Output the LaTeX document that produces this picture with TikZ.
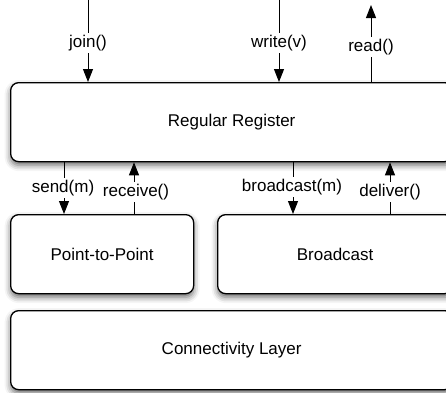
\documentclass[tikz,border=0pt]{standalone}
\usepackage{fontspec}
\setmainfont{Liberation Sans}
\usetikzlibrary{arrows.meta,shadows.blur}
\begin{document}
\begin{tikzpicture}[x=1pt,y=-1pt,
  box/.style={draw=black, line width=1.3pt, rounded corners=8pt, fill=white,
    blur shadow={shadow xshift=0pt, shadow yshift=-3.5pt, shadow blur radius=6pt, shadow opacity=60},
    font=\fontsize{17}{20}\selectfont, text=black, anchor=north west, inner sep=0pt},
  arr/.style={line width=1pt, draw=black, -{Triangle[width=10pt,length=13pt]}},
  lab/.style={fill=white, inner xsep=3pt, inner ysep=2pt, font=\fontsize{17}{20}\selectfont, text=black}]
\useasboundingbox (0,0) rectangle (446,392);
\clip (0,0) rectangle (446,392);
% boxes
\node[box, minimum width=442pt, minimum height=79pt] (rr) at (10,82) {Regular Register};
\node[box, minimum width=183pt, minimum height=79pt] (pp) at (10,214) {Point-to-Point};
\node[box, minimum width=235pt, minimum height=79pt] (bc) at (217,214) {Broadcast};
\node[box, minimum width=442pt, minimum height=79pt] (cl) at (10,310) {Connectivity Layer};
% x positions / free ends
\coordinate (jx) at (88,0);
\coordinate (wx) at (279,0);
\coordinate (rx) at (371,5);
\coordinate (sx) at (64,0);
\coordinate (cx) at (134,0);
\coordinate (bx) at (293,0);
\coordinate (dx) at (390,0);
% connectors
\draw[arr] (jx) -- (jx |- rr.north);
\draw[arr] (wx) -- (wx |- rr.north);
\draw[arr] (rr.north -| rx) -- (rx);
\draw[arr] (rr.south -| sx) -- (pp.north -| sx);
\draw[arr] (pp.north -| cx) -- (rr.south -| cx);
\draw[arr] (rr.south -| bx) -- (bc.north -| bx);
\draw[arr] (bc.north -| dx) -- (rr.south -| dx);
% labels
\node[lab] (jl) at (88,43) {join()};
\node[lab] (wl) at (279,43) {write(v)};
\node[lab] (rl) at (371,47) {read()};
\node[lab] (sl) at (63,188) {send(m)};
\node[lab] (cl2) at (136,192) {receive()};
\node[lab] (bl) at (292,187) {broadcast(m)};
\node[lab] (dl) at (390,192) {deliver()};
\end{tikzpicture}
\end{document}
